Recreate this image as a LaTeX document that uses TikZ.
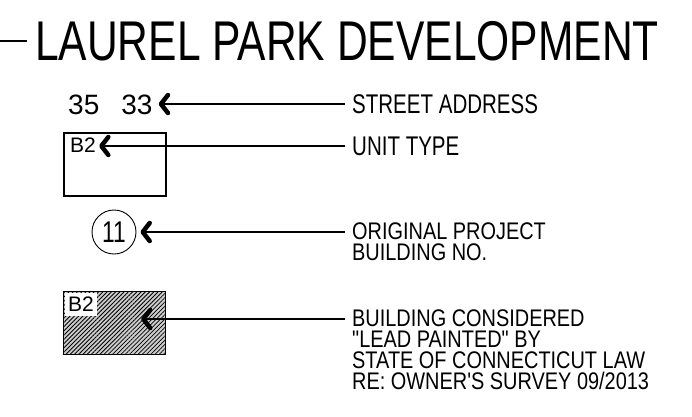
\documentclass[tikz,border=0pt]{standalone}
\usepackage{fontspec}
\setmainfont{Liberation Sans}
\newfontfamily\cadfont{Liberation Sans}[FakeStretch=0.76]
\newfontfamily\notefont{Liberation Sans}[FakeStretch=0.83]
\usetikzlibrary{arrows.meta,patterns.meta}

\begin{document}
\begin{tikzpicture}[x=1pt,y=-1pt,
  leader/.style={line width=1.3pt,-{Straight Barb[length=7pt,width=18pt,line width=4.5pt,round]}},
  note/.style={anchor=west,inner xsep=7pt,inner ysep=0pt,font=\cadfont\fontsize{27}{27}\selectfont},
  notes/.style={anchor=north west,inner xsep=7pt,inner ysep=0pt,align=left,font=\notefont\fontsize{24}{21}\selectfont},
  tag/.style={anchor=north west,inner sep=0pt,font=\fontsize{21}{21}\selectfont},
  plan/.style={draw,line width=1.5pt,anchor=north west,minimum width=102pt,minimum height=63pt,inner sep=0pt}]
\useasboundingbox (0,0) rectangle (692,416);

\node (title) at (35,41) [anchor=west,inner sep=0pt,font=\cadfont\fontsize{56}{56}\selectfont] {LAUREL PARK DEVELOPMENT};
\coordinate (edge) at (0,41);
\draw [line width=2.5pt,shorten >=8pt] (edge) -- (title.west);

% legend symbols
\node (addr) at (68,105) [anchor=west,inner sep=0pt,font=\fontsize{28}{28}\selectfont] {35\hspace{22pt}33};
\node (unitbox) at (63,132) [plan] {};
\node (unittag) at (70,138) [tag] {B2};
\node (bldg) at (114,232) [draw,circle,line width=0.9pt,minimum size=44pt,inner sep=0pt,font=\cadfont\fontsize{30}{30}\selectfont] {11};
\node (leadbox) at (63,291) [plan,preaction={fill=gray!40},pattern={Lines[angle=45,distance=3pt,line width=0.8pt]}] {};
\node (leadtag) at (65,293) [tag,fill=white,inner xsep=3pt,inner ysep=4pt] {B2};
\coordinate (leadtip) at (141,319);

% notes
\node (street) at (345,104) [note] {STREET ADDRESS};
\node (unit) at (345,146) [note] {UNIT TYPE};
\node (orig) at (345,223) [notes] {ORIGINAL PROJECT\\BUILDING NO.};
\node (lead) at (345,310) [notes] {BUILDING CONSIDERED\\"LEAD PAINTED" BY\\STATE OF CONNECTICUT LAW\\RE: OWNER'S SURVEY 09/2013};

\draw [leader,shorten >=6pt] (street.west) -- (street.west -| addr.east);
\draw [leader,shorten >=3pt] (unit.west) -- (unit.west -| unittag.east);
\draw [leader,shorten >=4pt] (bldg.east -| orig.west) -- (bldg.east);
\draw [leader] (leadtip -| lead.west) -- (leadtip);
\end{tikzpicture}
\end{document}
